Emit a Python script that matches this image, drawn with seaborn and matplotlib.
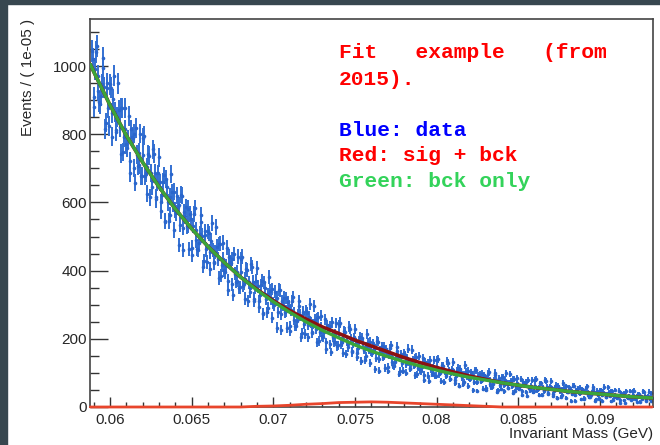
import numpy as np
import pandas as pd
import matplotlib
matplotlib.use('Agg')
from matplotlib import pyplot as plt
from matplotlib.patches import Rectangle
from matplotlib.ticker import MultipleLocator, FuncFormatter
import seaborn as sns

# binned data; bins 0.0589, 0.0590, ... 0.0932
counts_a = [
    1044, 908, 992, 1058, 928, 889, 947, 995, 815, 937,
    877, 946, 793, 904, 865, 808, 949, 820, 877, 748,
    878, 770, 784, 686, 814, 788, 702, 818, 708, 746,
    677, 740, 796, 687, 626, 737, 687, 646, 743, 616,
    659, 732, 600, 623, 679, 544, 644, 545, 617, 630,
    519, 577, 619, 593, 535, 620, 460, 560, 530, 582,
    565, 467, 532, 583, 489, 460, 507, 542, 412, 505,
    462, 515, 404, 487, 461, 422, 527, 434, 478, 385,
    482, 402, 415, 343, 441, 423, 360, 448, 368, 397,
    349, 397, 441, 362, 318, 402, 366, 338, 410, 318,
    351, 407, 310, 328, 371, 273, 348, 278, 331, 341,
    262, 305, 338, 321, 278, 342, 225, 300, 279, 320,
    307, 238, 285, 322, 256, 237, 270, 297, 204, 272,
    243, 282, 204, 265, 247, 218, 296, 229, 261, 194,
    268, 209, 219, 169, 240, 228, 184, 248, 191, 213,
    179, 215, 247, 191, 159, 221, 194, 176, 228, 164,
    186, 228, 159, 173, 205, 135, 189, 139, 177, 188,
    130, 162, 187, 173, 143, 192, 106, 162, 147, 177,
    169, 118, 154, 181, 133, 120, 144, 165, 97, 148,
    128, 157, 100, 144, 131, 112, 168, 121, 144, 96,
    149, 108, 117, 79, 132, 123, 92, 139, 97, 114,
    91, 116, 141, 100, 76, 121, 104, 91, 130, 83,
    100, 131, 80, 91, 114, 63, 104, 67, 96, 103,
    62, 85, 102, 95, 73, 108, 47, 88, 77, 98,
    93, 56, 84, 103, 68, 59, 78, 94, 45, 80,
    65, 87, 46, 79, 71, 56, 97, 62, 82, 47,
    84, 56, 61, 34, 74, 67, 44, 80, 49, 63,
    44, 63, 81, 52, 36, 69, 56, 46, 75, 41,
    54, 75, 39, 48, 64, 27, 57, 30, 52, 57,
    27, 44, 58, 51, 37, 63, 18, 48, 41, 57,
    52, 26, 45, 61, 35, 28, 42, 53, 19, 44,
    34, 50, 19, 45, 39, 28, 58, 33, 47, 21,
    50, 28, 31, 13, 41, 36, 20, 46, 25, 33,
    21, 34, 48, 26, 16, 39, 31, 23, 44, 20,
    30, 45, 19, 25,
]
first_a, last_a = 0.0589, 0.0932

# the bins in between: 0.05895, 0.05905, ... 0.09315
counts_b = [
    1021, 879, 1040, 972, 894, 913, 1023, 938, 834, 950,
    825, 936, 861, 972, 813, 851, 872, 743, 878, 791,
    814, 760, 854, 722, 792, 802, 658, 740, 710, 802,
    677, 790, 678, 705, 741, 615, 662, 756, 686, 609,
    685, 659, 574, 660, 547, 669, 600, 564, 683, 597,
    632, 568, 587, 475, 623, 526, 572, 587, 533, 463,
    550, 446, 566, 520, 463, 481, 564, 503, 427, 515,
    426, 509, 456, 539, 424, 454, 470, 378, 479, 416,
    434, 396, 467, 371, 425, 435, 328, 391, 370, 441,
    351, 435, 355, 376, 404, 312, 349, 420, 368, 312,
    371, 354, 294, 357, 275, 366, 316, 291, 381, 318,
    346, 299, 314, 233, 344, 273, 310, 321, 282, 233,
    296, 222, 310, 277, 238, 252, 312, 270, 217, 280,
    215, 277, 240, 302, 219, 243, 256, 190, 263, 219,
    233, 206, 258, 190, 229, 237, 161, 206, 192, 246,
    181, 241, 185, 199, 222, 156, 184, 236, 200, 160,
    204, 189, 147, 194, 136, 202, 167, 149, 214, 168,
    191, 158, 169, 110, 193, 141, 167, 178, 150, 114,
    161, 107, 172, 148, 121, 131, 176, 146, 107, 155,
    107, 153, 127, 171, 113, 129, 139, 93, 147, 115,
    124, 105, 144, 95, 124, 130, 75, 110, 99, 138,
    92, 137, 96, 107, 122, 74, 96, 135, 108, 81,
    111, 102, 71, 106, 63, 112, 87, 74, 123, 90,
    106, 83, 92, 49, 108, 72, 92, 97, 78, 53,
    87, 50, 98, 80, 59, 67, 100, 80, 50, 85,
    53, 87, 65, 99, 56, 70, 77, 42, 82, 58,
    69, 53, 83, 46, 67, 73, 32, 57, 51, 78,
    46, 79, 49, 57, 69, 35, 50, 78, 59, 38,
    61, 55, 32, 58, 27, 63, 46, 36, 71, 49,
    61, 44, 50, 19, 63, 36, 49, 55, 40, 23,
    48, 22, 55, 43, 28, 34, 60, 43, 23, 48,
    24, 49, 35, 59, 28, 38, 44, 17, 47, 30,
    36, 27, 48, 21, 36, 40, 12, 29, 25, 47,
    23, 46, 24, 32, 39, 16, 25, 46, 32, 18,
    33, 22, 40,
]
first_b, last_b = 0.05895, 0.09315

# fitted curves
fit_mass = [0.0588, 0.059, 0.060, 0.061, 0.062, 0.063, 0.064, 0.065, 0.066,
            0.067, 0.068, 0.069, 0.070, 0.071, 0.072, 0.073, 0.074, 0.075,
            0.076, 0.077, 0.078, 0.079, 0.080, 0.081, 0.082, 0.083, 0.084,
            0.085, 0.086, 0.087, 0.088, 0.089, 0.090, 0.091, 0.092, 0.093, 0.0932]
bck_only = [1005, 984, 886, 797, 718, 646, 581, 523, 471,
            424, 381, 343, 309, 278, 250, 225, 203, 182,
            164, 148, 133, 120, 108, 97, 87, 79, 71,
            64, 57, 52, 46, 42, 38, 34, 30, 27, 26.5]
sig_only = [0, 0, 0, 0, 0, 0, 0, 0, 0,
            0, 0, 2, 3, 5, 8, 10, 13, 14,
            15, 14, 12, 10, 8, 6, 4, 2, 0,
            0, 0, 0, 0, 0, 0, 0, 0, 0, 0]

x_ticks = [0.06, 0.065, 0.07, 0.075, 0.08, 0.085, 0.09]
text_lines = [('Fit   example   (from', '#ff0000'), ('2015).', '#ff0000'),
              ('Blue: data', '#0000ff'), ('Red: sig + bck', '#ff0000'),
              ('Green: bck only', '#33d35a')]


def main():
    sns.set_style('ticks')
    plt.rcParams['font.family'] = ['Liberation Sans', 'DejaVu Sans']

    data = pd.concat([
        pd.DataFrame({'mass': np.linspace(first_a, last_a, len(counts_a)), 'n': counts_a}),
        pd.DataFrame({'mass': np.linspace(first_b, last_b, len(counts_b)), 'n': counts_b}),
    ]).sort_values('mass')
    fit = pd.DataFrame({'mass': fit_mass, 'bck': bck_only, 'sig': sig_only})
    fit['total'] = fit['bck'] + fit['sig']

    fig = plt.figure(figsize=(6.6, 4.45), dpi=100)
    fig.add_artist(Rectangle((0, 0), 7 / 660, 1, transform=fig.transFigure,
                             color='#37474f', zorder=0))
    fig.add_artist(Rectangle((0, 1 - 4 / 445), 1, 4 / 445, transform=fig.transFigure,
                             color='#37474f', zorder=0))
    ax = fig.add_axes([90 / 660, 38 / 445, 563 / 660, 388 / 445])

    blue = '#2a66cc'
    ax.errorbar(data['mass'], data['n'], yerr=np.sqrt(data['n']), fmt='o', ms=2.6,
                mew=0, color=blue, ecolor='#3370d2', elinewidth=1.4, capsize=2.0,
                capthick=1.2, zorder=2)
    sns.lineplot(data=fit, x='mass', y='total', color='#8b1212', lw=2.6, ax=ax, zorder=3)
    sns.lineplot(data=fit, x='mass', y='bck', color='#3aa53a', lw=2.4, ax=ax, zorder=4)
    sns.lineplot(data=fit, x='mass', y='sig', color='#e8452c', lw=2.0, ax=ax, zorder=5,
                 clip_on=False)

    ax.set_xlim(0.05878, 0.09325)
    ax.set_ylim(0, 1138)
    ax.set_xticks(x_ticks)
    ax.xaxis.set_major_formatter(FuncFormatter(lambda v, p: '{:g}'.format(round(v, 4))))
    ax.xaxis.set_minor_locator(MultipleLocator(0.001))
    ax.yaxis.set_major_locator(MultipleLocator(200))
    ax.yaxis.set_minor_locator(MultipleLocator(50))
    ax.tick_params(which='both', direction='in', color='#333333', width=1,
                   labelsize=11, top=False, right=False)
    ax.tick_params(axis='y', which='major', length=13, pad=2)
    ax.tick_params(axis='y', which='minor', length=6.5)
    ax.tick_params(axis='x', which='major', length=7.2, pad=4)
    ax.tick_params(axis='x', which='minor', length=3.6)
    for side in ax.spines.values():
        side.set_color('#444444')
        side.set_linewidth(1.2)

    ax.set_xlabel('Invariant Mass (GeV)', fontsize=11, loc='right')
    ax.xaxis.set_label_coords(1.0, -0.052)
    ax.set_ylabel('Events / ( 1e-05 )', fontsize=11, loc='top')
    ax.yaxis.set_label_coords(-0.097, 1.0)

    baselines = [58, 85, 136, 161, 187]
    for (line, colour), yb in zip(text_lines, baselines):
        fig.text(339 / 660, 1 - yb / 445, line, color=colour, fontsize=15.3,
                 family='Liberation Mono', weight='bold', va='baseline', ha='left')

    fig.savefig('out.png', dpi=100)


if __name__ == '__main__':
    main()
